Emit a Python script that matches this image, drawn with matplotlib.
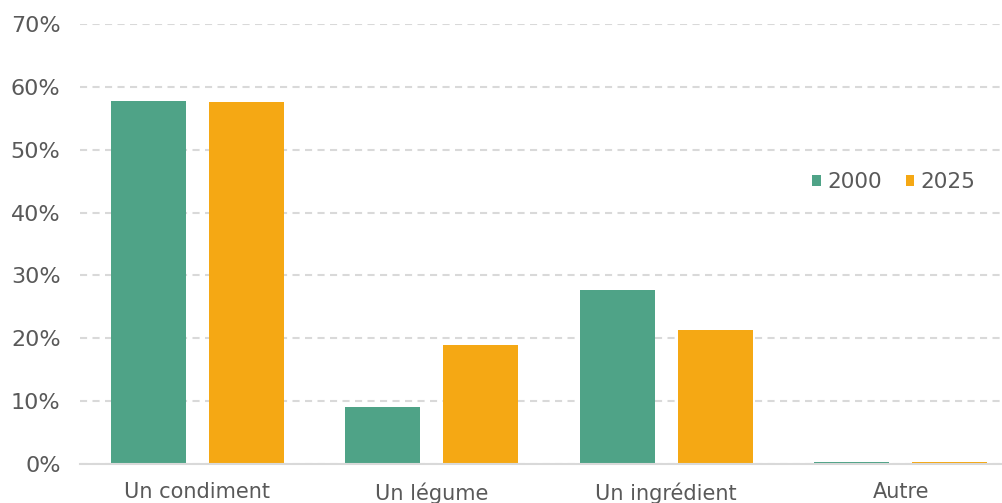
import matplotlib
matplotlib.use("Agg")
import matplotlib.pyplot as plt
import numpy as np

categories = ["Un condiment", "Un légume", "Un ingrédient", "Autre"]
series_labels = ["2000", "2025"]
values_2000 = [57.7, 9.1, 27.7, 0.3]
values_2025 = [57.6, 18.9, 21.3, 0.3]
yticks = [0, 10, 20, 30, 40, 50, 60, 70]

GREEN = "#4fa387"
ORANGE = "#f5a814"
TEXT = "#595959"

plt.rcParams["font.family"] = ["DejaVu Sans"]

fig = plt.figure(figsize=(10.03, 5.03), dpi=100)
# axes spans from the y labels to past the right edge of the canvas
ax = fig.add_axes([80 / 1003, 39 / 503, 923 / 1003, 440 / 503])

x = np.arange(len(categories))
width = 0.32
offset = 0.209
ax.bar(x - offset, values_2000, width, color=GREEN, label=series_labels[0], zorder=3)
ax.bar(x + offset, values_2025, width, color=ORANGE, label=series_labels[1], zorder=3)

ax.set_xlim(-0.5, 3.5 - 15 / 234.5)
ax.set_ylim(0, 70)
ax.set_yticks(yticks)
ax.set_yticklabels([f"{t}%" for t in yticks])
ax.set_xticks(x)
ax.set_xticklabels(categories)

ax.grid(axis="y", color="#d9d9d9", linestyle=(0, (3.4, 2.6)), linewidth=1.5, zorder=0)
ax.set_axisbelow(True)
for side in ["top", "right", "left"]:
    ax.spines[side].set_visible(False)
ax.spines["bottom"].set_color("#d9d9d9")
ax.spines["bottom"].set_linewidth(1.5)
ax.spines["bottom"].set_zorder(4)

ax.tick_params(axis="both", length=0, labelsize=15, colors=TEXT)
ax.tick_params(axis="y", pad=14, labelsize=16)
ax.tick_params(axis="x", pad=13)

ax.legend(
    loc="center left",
    bbox_to_anchor=(793 / 1003, 1 - 182 / 503),
    bbox_transform=fig.transFigure,
    ncol=2,
    frameon=False,
    fontsize=15.5,
    labelcolor=TEXT,
    handlelength=0.4,
    handleheight=0.4,
    handletextpad=0.3,
    columnspacing=1.1,
)

fig.savefig("out.png", dpi=100)
